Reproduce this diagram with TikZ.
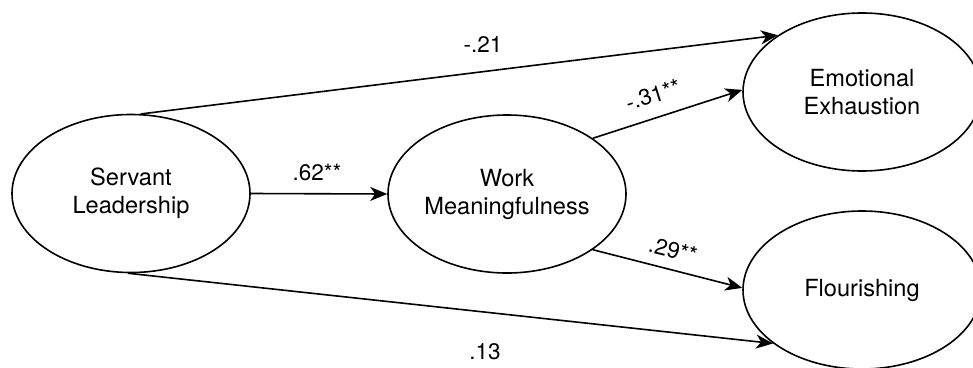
\documentclass[tikz,border=0pt]{standalone}
\usepackage{fontspec}
\setmainfont{TeX Gyre Heros}
\usetikzlibrary{shapes.geometric,arrows.meta}
\begin{document}
\begin{tikzpicture}[x=1pt,y=-1pt,
  latent/.style={ellipse, draw, line width=1.6pt, minimum width=238pt, minimum height=158pt,
    inner sep=0pt, align=center, font=\fontsize{23.6}{28}\selectfont},
  pathedge/.style={draw, line width=1.6pt, -{Stealth[length=17pt,width=14pt,inset=5pt]}},
  coef/.style={inner sep=0pt, font=\fontsize{22.5}{26}\selectfont}]
\clip (0,0) rectangle (973,367);
\node[latent] (SL) at (131,193.5) {Servant\\Leadership};
\node[latent] (WM) at (507,194) {Work\\Meaningfulness};
\node[latent] (EE) at (862,92) {Emotional\\Exhaustion};
\node[latent] (FL) at (862,290) {Flourishing};

\draw[pathedge] (SL.east) -- (WM.west);
\draw[pathedge] (SL.83) -- (EE.146.6);
\draw[pathedge] (SL.268) -- (FL.211.6);
\draw[pathedge] (WM.33.5) -- (EE.179);
\draw[pathedge] (WM.-33.5) -- (FL.179);

\node[coef] (l62) at (317,172) {.62**};
\node[coef] (l21) at (483,45) {-.21};
\node[coef, rotate=17.4] (l31) at (653,95) {-.31**};
\node[coef, rotate=-13.9] (l29) at (673,250) {.29**};
\node[coef] (l13) at (485,352) {.13};
\end{tikzpicture}
\end{document}
